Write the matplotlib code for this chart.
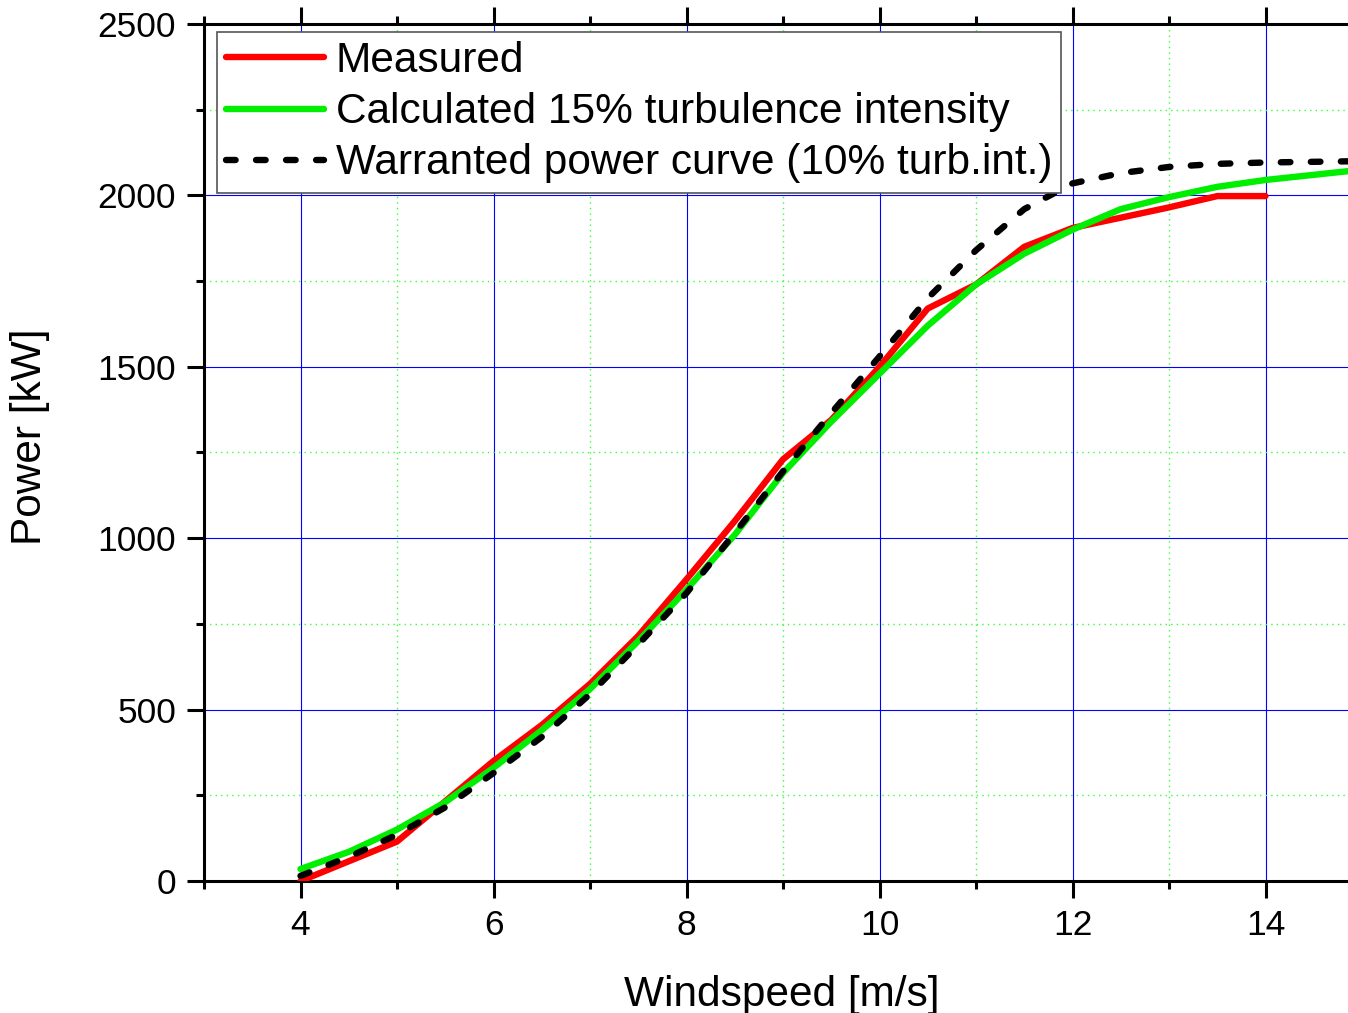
import matplotlib
matplotlib.use("Agg")
import matplotlib.pyplot as plt
from matplotlib.ticker import MultipleLocator

plt.rcParams['font.family'] = ['Liberation Sans', 'DejaVu Sans']

# Data
measured_x = [4, 5, 6, 6.5, 7, 7.5, 8, 8.5, 9, 9.5, 10, 10.5, 11, 11.5, 12, 12.5, 13, 13.5, 14]
measured_y = [0, 115, 350, 455, 575, 715, 880, 1050, 1230, 1345, 1500, 1670, 1740, 1850, 1905, 1935, 1965, 1998, 1998]

calc_x = [4, 4.5, 5, 5.5, 6, 6.5, 7, 7.5, 8, 8.5, 9, 9.5, 10, 10.5, 11, 11.5, 12, 12.5, 13, 13.5, 14, 14.5, 15]
calc_y = [35, 85, 150, 230, 330, 440, 560, 700, 850, 1010, 1190, 1340, 1480, 1620, 1740, 1830, 1900, 1960, 1995, 2025, 2045, 2060, 2075]

warr_x = [4, 4.5, 5, 5.5, 6, 6.5, 7, 7.5, 8, 8.5, 9, 9.5, 10, 10.5, 11, 11.5, 12, 12.5, 13, 13.5, 14, 14.5, 15]
warr_y = [15, 70, 135, 215, 315, 420, 545, 690, 840, 1015, 1195, 1365, 1530, 1700, 1840, 1960, 2035, 2065, 2083, 2092, 2096, 2098, 2100]

labels = ["Measured", "Calculated 15% turbulence intensity", "Warranted power curve (10% turb.int.)"]

fig = plt.figure(figsize=(13.48, 10.13), dpi=100)
ax = fig.add_axes([204/1348, 1-881/1013, 1-204/1348, (881-24)/1013])

ax.plot(measured_x, measured_y, color='#ff0000', lw=4.6, label=labels[0], zorder=3, solid_capstyle='round')
ax.plot(calc_x, calc_y, color='#00ee00', lw=4.6, label=labels[1], zorder=4, solid_capstyle='round')
ax.plot(warr_x, warr_y, color='black', lw=4.6, linestyle=(0, (1.5, 3.2)), dash_capstyle='round',
        label=labels[2], zorder=5)

ax.set_xlim(3, 3 + (1348-204)/96.5)
ax.set_ylim(0, 2500)
ax.xaxis.set_major_locator(MultipleLocator(2))
ax.xaxis.set_minor_locator(MultipleLocator(1))
ax.yaxis.set_major_locator(MultipleLocator(500))
ax.yaxis.set_minor_locator(MultipleLocator(250))

ax.grid(which='major', color='#0000ff', lw=0.8, ls='-')
ax.grid(which='minor', color='#33ff33', lw=1.0, ls=(0, (1, 3)))
ax.set_axisbelow(True)

ax.spines['right'].set_visible(False)
for s in ['left', 'bottom', 'top']:
    ax.spines[s].set_linewidth(2.2)
ax.tick_params(which='major', direction='out', length=12, width=2.2, labelsize=25.5,
               top=True, labeltop=False)
ax.tick_params(which='minor', direction='out', length=6, width=2.2, top=True)
ax.tick_params(axis='x', which='major', pad=8)
ax.tick_params(axis='y', which='major', pad=8)

ax.set_xlabel("Windspeed [m/s]", fontsize=30.5, labelpad=24)
ax.set_ylabel("Power [kW]", fontsize=30.5, labelpad=34)
ax.xaxis.label.set_x(0.505)
ax.yaxis.label.set_y(0.518)

leg = ax.legend(loc='upper left', bbox_to_anchor=((217-204)/1144, (881-32)/857), borderaxespad=0,
                fontsize=30.5, frameon=True, fancybox=False, edgecolor='#555555', framealpha=1,
                handlelength=2.3, handletextpad=0.28, labelspacing=0.26, borderpad=0.22)
leg.get_frame().set_linewidth(1.2)

fig.savefig("out.png", dpi=100)
